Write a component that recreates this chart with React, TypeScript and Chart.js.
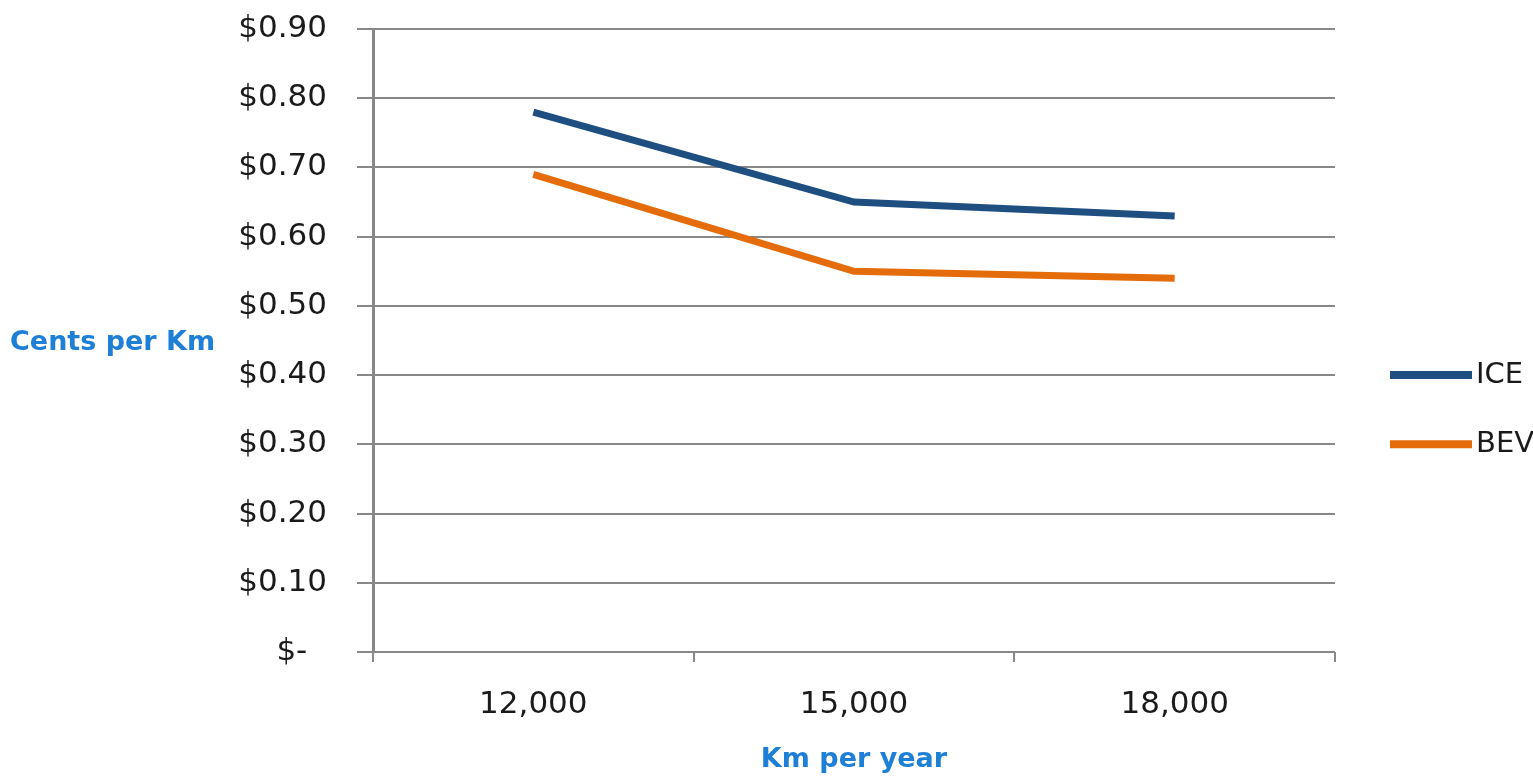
import React, { useEffect, useRef } from 'react';
import Chart from 'chart.js/auto';

const categories = ['12,000', '15,000', '18,000'];
const iceValues = [0.78, 0.65, 0.63];
const bevValues = [0.69, 0.55, 0.54];
const seriesNames = ['ICE', 'BEV'];
const seriesColors = ['#1F4E80', '#E46C0A'];
const yTitle = 'Cents per Km';
const xTitle = 'Km per year';

const gridColor = '#888888';
const tickFont = 'DejaVu Sans';

// draws the horizontal y title and the right-hand legend
const sidePlugin = {
  id: 'sideText',
  afterDraw(chart: Chart) {
    const ctx = chart.ctx;
    const area = chart.chartArea;
    ctx.save();
    ctx.font = 'bold 27px "DejaVu Sans"';
    ctx.fillStyle = '#1E7FD6';
    ctx.textAlign = 'left';
    ctx.textBaseline = 'middle';
    ctx.fillText(yTitle, 10, 343);

    const yScale = chart.scales.y;
    chart.data.datasets.forEach((ds, i) => {
      const y = yScale.getPixelForValue(0.4 - i * 0.1);
      ctx.strokeStyle = ds.borderColor as string;
      ctx.lineWidth = 8;
      ctx.beginPath();
      ctx.moveTo(area.right + 55, y);
      ctx.lineTo(area.right + 137, y);
      ctx.stroke();
      ctx.font = '29px "DejaVu Sans"';
      ctx.fillStyle = '#1a1a1a';
      ctx.fillText(ds.label as string, area.right + 141, y);
    });
    ctx.restore();
  },
};

const CostChart: React.FC = () => {
  const chartRef = useRef<HTMLCanvasElement | null>(null);
  const chartInstance = useRef<Chart | null>(null);

  useEffect(() => {
    if (!chartRef.current) return;
    const ctx = chartRef.current.getContext('2d');
    if (!ctx) return;

    chartInstance.current = new Chart(ctx, {
      type: 'line',
      data: {
        labels: categories,
        datasets: [
          {
            label: seriesNames[0],
            data: iceValues,
            borderColor: seriesColors[0],
            backgroundColor: seriesColors[0],
            borderWidth: 7,
            pointRadius: 0,
            tension: 0,
            fill: false,
          },
          {
            label: seriesNames[1],
            data: bevValues,
            borderColor: seriesColors[1],
            backgroundColor: seriesColors[1],
            borderWidth: 7,
            pointRadius: 0,
            tension: 0,
            fill: false,
          },
        ],
      },
      options: {
        responsive: false,
        animation: false,
        layout: { padding: { left: 0, top: 29, right: 198, bottom: 0 } },
        plugins: {
          legend: { display: false },
          tooltip: { enabled: false },
        },
        scales: {
          x: {
            offset: true,
            grid: {
              offset: true,
              drawOnChartArea: false,
              drawTicks: true,
              tickLength: 10,
              color: gridColor,
              lineWidth: 2,
            },
            border: { display: false },
            ticks: {
              color: '#1a1a1a',
              font: { family: tickFont, size: 31 },
              padding: 24,
            },
            title: {
              display: true,
              text: xTitle,
              color: '#1E7FD6',
              font: { family: tickFont, size: 27, weight: 'bold' },
              padding: { top: 8, bottom: 0 },
            },
            afterFit(scale: any) {
              scale.height = 124;
              scale.paddingLeft = 0;
              scale.paddingRight = 0;
            },
          },
          y: {
            min: 0,
            max: 0.9,
            ticks: {
              stepSize: 0.1,
              color: '#1a1a1a',
              font: { family: tickFont, size: 31 },
              padding: 30,
              callback: (v: any) => (Number(v) === 0 ? '$-  ' : '$' + Number(v).toFixed(2)),
            },
            grid: {
              color: gridColor,
              lineWidth: 2,
              tickLength: 16,
            },
            border: { display: true, color: gridColor, width: 3 },
            afterFit(scale: any) {
              scale.width = 373;
              scale.paddingTop = 0;
              scale.paddingBottom = 0;
            },
          },
        },
      },
      plugins: [sidePlugin],
    });

    return () => {
      if (chartInstance.current) {
        chartInstance.current.destroy();
        chartInstance.current = null;
      }
    };
  }, []);

  return <canvas ref={chartRef} width={1533} height={776} />;
};

export default function App() {
  return (
    <div style={{ position: 'absolute', left: 0, top: 0, width: 1533, height: 776, background: '#fff' }}>
      <CostChart />
    </div>
  );
}
